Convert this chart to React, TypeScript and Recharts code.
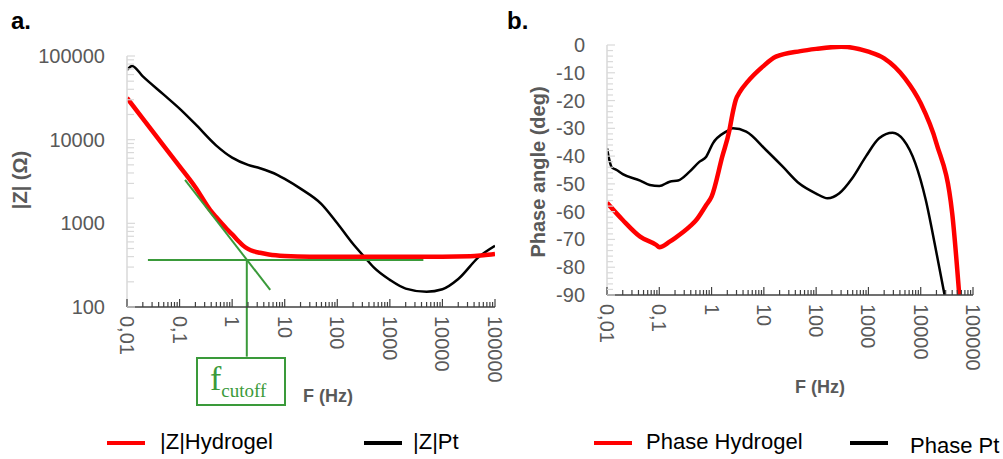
import { LineChart, Line, XAxis, YAxis, ReferenceLine } from 'recharts';

// frequency (Hz) / value pairs
const zHydroF = [0.01, 0.02, 0.05, 0.1, 0.2, 0.38, 0.5, 0.8, 1, 1.3, 1.6, 2, 2.6, 3.4, 5, 10, 30, 100, 1000, 10000, 34000, 60000, 100000];
const zHydroV = [31500, 17900, 8450, 4800, 2700, 1450, 1180, 850, 740, 620, 545, 495, 462, 445, 425, 408, 400, 400, 400, 400, 403, 415, 430];

const zPtF = [0.01, 0.0125, 0.02, 0.05, 0.1, 0.2, 0.5, 1, 2, 3.4, 7.2, 10, 20, 50, 100, 200, 355, 500, 1000, 2000, 5000, 10000, 20000, 50000, 100000];
const zPtV = [68000, 76000, 57000, 34500, 23500, 15300, 8500, 6100, 5000, 4550, 3800, 3400, 2600, 1700, 1000, 565, 375, 295, 211, 166, 152, 163, 216, 400, 540];

const phHydroF = [0.01, 0.02, 0.043, 0.088, 0.1, 0.158, 0.2, 0.38, 0.5, 0.79, 1, 1.6, 2.2, 2.5, 2.9, 3.5, 4.9, 9.5, 17, 50, 100, 300, 1000, 2000, 5000, 10000, 20000, 40000, 54600];
const phHydroV = [-56.8, -63, -69, -72, -72.8, -70.8, -69.5, -65.4, -63.2, -57.6, -54.6, -40.2, -30.6, -25, -19.8, -16.8, -13.2, -7.8, -4.2, -2.2, -1.4, -0.6, -2.4, -4.8, -12, -21, -35.4, -60.6, -90];

const phPtF = [0.01, 0.0123, 0.0153, 0.02, 0.043, 0.066, 0.1, 0.158, 0.229, 0.38, 0.59, 0.79, 1.06, 1.9, 2.55, 4.6, 11, 23, 47, 98, 165, 278, 490, 890, 1600, 2900, 4700, 7900, 12500, 19000, 28600];
const phPtV = [-37.2, -44, -45, -46.5, -48.8, -50.4, -50.8, -49.2, -48.8, -45.6, -42, -40.2, -35.4, -31.2, -30, -31.2, -37.8, -43.8, -49.8, -53.4, -55.2, -53.4, -48, -40.2, -33.6, -31.6, -34.2, -42.6, -55.8, -72.6, -90];

// cutoff construction lines (green)
const cutoffF = 1.9;
const cutoffZ = 365;

// axis ticks
const freqMajor = [0.01, 0.1, 1, 10, 100, 1000, 10000, 100000];
const freqLabels = ['0,01', '0,1', '1', '10', '100', '1000', '10000', '100000'];
const zMajor = [100, 1000, 10000, 100000];
const zLabels = ['100', '1000', '10000', '100000'];
const phaseMajor = [0, -10, -20, -30, -40, -50, -60, -70, -80, -90];

const zip = (f: number[], v: number[]) => f.map((x, i) => ({ f: x, v: v[i] }));

const logTicks = (majors: number[]) => {
  const out: number[] = [...majors];
  majors.slice(0, -1).forEach((d) => {
    for (let k = 2; k <= 9; k++) out.push(d * k);
  });
  return out.sort((a, b) => a - b);
};

const freqTicks = logTicks(freqMajor);
const zTicks = logTicks(zMajor);
const phaseTicks: number[] = [];
for (let p = 0; p >= -90; p -= 2) phaseTicks.push(p);

const GREEN = '#3A9A3A';
const GRAY = '#595959';
const FONT = '"Liberation Sans", Arial, sans-serif';

const XTick = (props: any) => {
  const { x, y, payload } = props;
  const i = freqMajor.indexOf(payload.value);
  const major = i >= 0;
  return (
    <g>
      <line x1={x} x2={x} y1={y} y2={y - (major ? 8 : 5)} stroke="#404040" strokeWidth={1.2} />
      {major && (
        <text
          x={x}
          y={y + 9}
          transform={`rotate(90 ${x} ${y + 9})`}
          textAnchor="start"
          dominantBaseline="central"
          fontSize={20}
          fontFamily={FONT}
          fill={GRAY}
        >
          {freqLabels[i]}
        </text>
      )}
    </g>
  );
};

const ZTick = (props: any) => {
  const { x, y, payload } = props;
  const i = zMajor.indexOf(payload.value);
  return (
    <g>
      <line x1={x} x2={x + (i >= 0 ? 8 : 7)} y1={y} y2={y} stroke="#d9d9d9" strokeWidth={1.2} />
      {i >= 0 && (
        <text x={x - 22} y={y} textAnchor="end" dominantBaseline="central" fontSize={20} fontFamily={FONT} fill={GRAY}>
          {zLabels[i]}
        </text>
      )}
    </g>
  );
};

const PhaseTick = (props: any) => {
  const { x, y, payload } = props;
  const major = phaseMajor.includes(payload.value);
  return (
    <g>
      <line x1={x} x2={x + (major ? 8 : 6)} y1={y} y2={y} stroke="#d9d9d9" strokeWidth={1.2} />
      {major && (
        <text x={x - 22} y={y} textAnchor="end" dominantBaseline="central" fontSize={20} fontFamily={FONT} fill={GRAY}>
          {payload.value}
        </text>
      )}
    </g>
  );
};

const abs = (left: number, top: number, extra: any = {}) => ({
  position: 'absolute' as const,
  left,
  top,
  fontFamily: FONT,
  whiteSpace: 'nowrap' as const,
  lineHeight: 1,
  ...extra,
});

const LegendItem = ({ x, y, color, label, textX, textDy = 0 }: any) => (
  <>
    <div style={abs(x, y - 2, { width: 38, height: 4, background: color })} />
    <div style={abs(textX, y - 12 + textDy, { fontSize: 22, color: '#000' })}>{label}</div>
  </>
);

export default function App() {
  return (
    <div style={{ position: 'absolute', left: 0, top: 0, width: 1003, height: 459, background: '#fff', overflow: 'hidden' }}>
      <div style={abs(0, 0)}>
        <LineChart width={515} height={459} margin={{ top: 56, right: 20, bottom: 52, left: 57 }}>
          <XAxis
            dataKey="f"
            type="number"
            scale="log"
            domain={[0.01, 100000]}
            allowDataOverflow
            ticks={freqTicks}
            interval={0}
            tick={<XTick />}
            tickLine={false}
            tickSize={0}
            tickMargin={0}
            axisLine={{ stroke: '#404040', strokeWidth: 1.5 }}
            height={100}
          />
          <YAxis
            type="number"
            scale="log"
            domain={[100, 100000]}
            allowDataOverflow
            ticks={zTicks}
            interval={0}
            tick={<ZTick />}
            tickLine={false}
            tickSize={0}
            tickMargin={0}
            axisLine={{ stroke: '#d9d9d9', strokeWidth: 1.5 }}
            width={70}
          />
          <Line data={zip(zPtF, zPtV)} dataKey="v" type="monotone" stroke="#000" strokeWidth={2.5} dot={false} isAnimationActive={false} />
          <Line data={zip(zHydroF, zHydroV)} dataKey="v" type="monotone" stroke="#ff0000" strokeWidth={4.5} dot={false} isAnimationActive={false} />
          <ReferenceLine segment={[{ x: 0.025, y: cutoffZ }, { x: 4340, y: cutoffZ }]} stroke={GREEN} strokeWidth={2} ifOverflow="visible" />
          <ReferenceLine segment={[{ x: 0.127, y: 3300 }, { x: 5.3, y: 160 }]} stroke={GREEN} strokeWidth={2} ifOverflow="visible" />
          <ReferenceLine segment={[{ x: cutoffF, y: cutoffZ }, { x: cutoffF, y: 25.5 }]} stroke={GREEN} strokeWidth={2} ifOverflow="visible" />
        </LineChart>
      </div>
      <div style={abs(500, 0)}>
        <LineChart width={503} height={459} margin={{ top: 45, right: 30, bottom: 64, left: 37 }}>
          <XAxis
            dataKey="f"
            type="number"
            scale="log"
            domain={[0.01, 100000]}
            allowDataOverflow
            ticks={freqTicks}
            interval={0}
            tick={<XTick />}
            tickLine={false}
            tickSize={0}
            tickMargin={0}
            axisLine={{ stroke: '#404040', strokeWidth: 1.5 }}
            height={100}
          />
          <YAxis
            type="number"
            domain={[-90, 0]}
            allowDataOverflow
            ticks={phaseTicks}
            interval={0}
            tick={<PhaseTick />}
            tickLine={false}
            tickSize={0}
            tickMargin={0}
            axisLine={{ stroke: '#d9d9d9', strokeWidth: 1.5 }}
            width={70}
          />
          <Line data={zip(phPtF, phPtV)} dataKey="v" type="monotone" stroke="#000" strokeWidth={2.5} dot={false} isAnimationActive={false} />
          <Line data={zip(phHydroF, phHydroV)} dataKey="v" type="monotone" stroke="#ff0000" strokeWidth={4.5} dot={false} isAnimationActive={false} />
        </LineChart>
      </div>

      {/* panel letters and axis titles */}
      <div style={abs(11, 9, { fontSize: 24, fontWeight: 'bold', color: '#000' })}>a.</div>
      <div style={abs(507, 9, { fontSize: 24, fontWeight: 'bold', color: '#000' })}>b.</div>
      <div style={abs(20, 180, { fontSize: 20, fontWeight: 'bold', color: GRAY, transform: 'translate(-50%, -50%) rotate(-90deg)' })}>|Z| (Ω)</div>
      <div style={abs(538, 172, { fontSize: 20, fontWeight: 'bold', color: GRAY, transform: 'translate(-50%, -50%) rotate(-90deg)' })}>Phase angle (deg)</div>
      <div style={abs(303, 387, { fontSize: 18, fontWeight: 'bold', color: GRAY })}>F (Hz)</div>
      <div style={abs(795, 378, { fontSize: 18, fontWeight: 'bold', color: GRAY })}>F (Hz)</div>

      {/* f_cutoff box */}
      <svg style={{ position: 'absolute', left: 0, top: 0 }} width={1003} height={459}>
        <rect x={197} y={358} width={88} height={47} fill="#fff" stroke={GREEN} strokeWidth={2} />
        <text x={210} y={390} fontFamily='"Liberation Serif", "Times New Roman", serif' fontSize={34} fill={GREEN}>
          f
          <tspan fontSize={19} dy={7}>cutoff</tspan>
        </text>
      </svg>

      {/* legends */}
      <LegendItem x={107} y={443} color="#ff0000" label="|Z|Hydrogel" textX={160} />
      <LegendItem x={364} y={443} color="#000" label="|Z|Pt" textX={413} />
      <LegendItem x={594} y={443} color="#ff0000" label="Phase Hydrogel" textX={646} />
      <LegendItem x={850} y={443} color="#000" label="Phase Pt" textX={910} textDy={4} />
    </div>
  );
}
